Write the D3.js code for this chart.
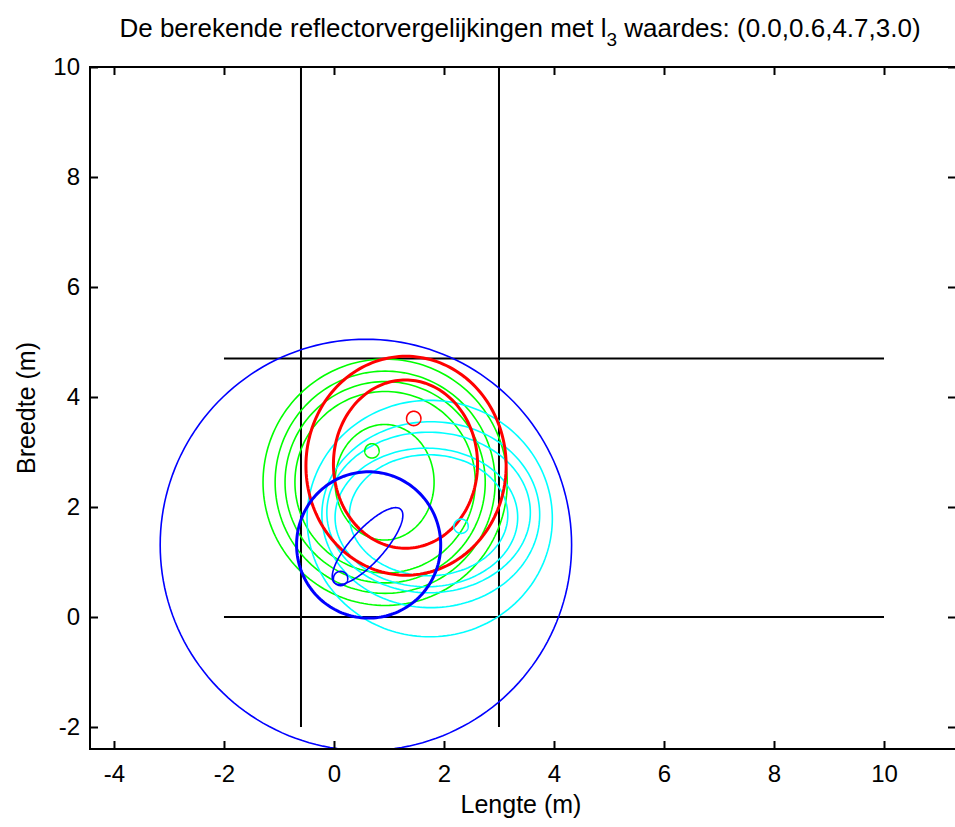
<!DOCTYPE html>
<html>
<head>
<meta charset="utf-8">
<script src="https://cdn.jsdelivr.net/npm/d3@7"></script>
<style>
  html, body { margin: 0; padding: 0; background: #fff; }
  svg { display: block; }
  text { font-family: "Liberation Sans", Arial, sans-serif; fill: #000; }
</style>
</head>
<body>
<svg id="chart" width="955" height="827"></svg>
<script>
// Axis ticks (metres)
const xTicks = [-4, -2, 0, 2, 4, 6, 8, 10];
const yTicks = [-2, 0, 2, 4, 6, 8, 10];

// Room boundary lines: l3 values (0.0, 0.6, 4.7, 3.0)
const wallsH = [ { y: 0.0, x0: -2, x1: 10 }, { y: 4.7, x0: -2, x1: 10 } ];
const wallsV = [ { x: -0.6, y0: -2, y1: 10 }, { x: 3.0, y0: -2, y1: 10 } ];

// Reflector ellipses per microphone: centre, semi-axes, rotation (deg)
const blueEllipses = [
  { cx: 0.58, cy: 1.31, rx: 3.74, ry: 3.74, rot: 0,  thick: false },
  { cx: 0.63, cy: 1.31, rx: 1.31, ry: 1.33, rot: 0,  thick: true },
  { cx: 0.61, cy: 1.29, rx: 0.90, ry: 0.30, rot: 48, thick: false }
];
const redEllipses = [
  { cx: 1.31, cy: 2.75, rx: 1.82, ry: 1.99, rot: 0, thick: true },
  { cx: 1.30, cy: 2.78, rx: 1.31, ry: 1.53, rot: 0, thick: true }
];
const greenEllipses = [
  { cx: 0.93, cy: 2.45, rx: 2.22, ry: 2.24, rot: 0, thick: false },
  { cx: 0.93, cy: 2.45, rx: 2.00, ry: 2.02, rot: 0, thick: false },
  { cx: 0.93, cy: 2.45, rx: 1.82, ry: 1.83, rot: 0, thick: false },
  { cx: 0.93, cy: 2.45, rx: 1.64, ry: 1.65, rot: 0, thick: false },
  { cx: 0.92, cy: 2.45, rx: 0.90, ry: 1.05, rot: 0, thick: false }
];
const cyanEllipses = [
  { cx: 1.74, cy: 1.79, rx: 2.23, ry: 2.15, rot: 0, thick: false },
  { cx: 1.76, cy: 1.86, rx: 1.98, ry: 1.69, rot: 0, thick: false },
  { cx: 1.72, cy: 1.90, rx: 1.85, ry: 1.46, rot: 0, thick: false },
  { cx: 1.68, cy: 1.81, rx: 1.66, ry: 1.26, rot: 0, thick: false },
  { cx: 1.72, cy: 1.85, rx: 1.44, ry: 1.10, rot: 0, thick: false }
];

// Microphone positions (small circles)
const micPoints = [
  { name: "blue",  x: 0.12, y: 0.70 },
  { name: "red",   x: 1.45, y: 3.61 },
  { name: "green", x: 0.69, y: 3.02 },
  { name: "cyan",  x: 2.31, y: 1.65 }
];
const micRadius = 0.13;

const colors = { blue: "#0000ff", red: "#ff0000", green: "#00ff00", cyan: "#00ffff" };

const svg = d3.select("#chart");
const plot = { left: 90, top: 67, right: 956, bottom: 749 };

const x = d3.scaleLinear().domain([-4.436, 11.309]).range([plot.left, plot.right]);
const y = d3.scaleLinear().domain([-2.4, 10]).range([plot.bottom, plot.top]);

svg.append("defs").append("clipPath").attr("id", "plotClip")
  .append("rect")
  .attr("x", plot.left).attr("y", plot.top)
  .attr("width", plot.right - plot.left).attr("height", plot.bottom - plot.top);

const g = svg.append("g").attr("clip-path", "url(#plotClip)");

// Ellipse outline as a closed path in data coordinates
function ellipsePoints(e) {
  const pts = [];
  const a = e.rot * Math.PI / 180;
  for (let i = 0; i <= 180; i++) {
    const t = i / 180 * 2 * Math.PI;
    const ex = e.rx * Math.cos(t), ey = e.ry * Math.sin(t);
    pts.push([e.cx + ex * Math.cos(a) - ey * Math.sin(a),
              e.cy + ex * Math.sin(a) + ey * Math.cos(a)]);
  }
  return pts;
}
const line = d3.line().x(d => x(d[0])).y(d => y(d[1]));

// Walls
g.selectAll("line.wallH").data(wallsH).enter().append("line")
  .attr("x1", d => x(d.x0)).attr("x2", d => x(d.x1))
  .attr("y1", d => y(d.y)).attr("y2", d => y(d.y))
  .attr("stroke", "#000").attr("stroke-width", 2);
g.selectAll("line.wallV").data(wallsV).enter().append("line")
  .attr("x1", d => x(d.x)).attr("x2", d => x(d.x))
  .attr("y1", d => y(d.y0)).attr("y2", d => y(d.y1))
  .attr("stroke", "#000").attr("stroke-width", 2);

function drawSet(list, color) {
  g.selectAll(null).data(list).enter().append("path")
    .attr("d", d => line(ellipsePoints(d)))
    .attr("fill", "none")
    .attr("stroke", color)
    .attr("stroke-width", d => d.thick ? 3 : 1.6);
}
drawSet(greenEllipses, colors.green);
drawSet(cyanEllipses, colors.cyan);
drawSet(redEllipses, colors.red);
drawSet(blueEllipses, colors.blue);

g.selectAll("path.mic").data(micPoints).enter().append("path")
  .attr("d", d => line(ellipsePoints({ cx: d.x, cy: d.y, rx: micRadius, ry: micRadius, rot: 0 })))
  .attr("fill", "none")
  .attr("stroke", d => colors[d.name])
  .attr("stroke-width", 1.6);

// Axes box with inward ticks on all sides
const tickLen = 8;
const fmt = d => String(d);
const axes = svg.append("g");
axes.append("rect")
  .attr("x", plot.left).attr("y", plot.top)
  .attr("width", plot.right - plot.left).attr("height", plot.bottom - plot.top)
  .attr("fill", "none").attr("stroke", "#000").attr("stroke-width", 2);

const bottomAxis = d3.axisBottom(x).tickValues(xTicks).tickSize(-tickLen).tickPadding(16).tickFormat(fmt);
const topAxis = d3.axisTop(x).tickValues(xTicks).tickSize(-tickLen).tickFormat("");
const leftAxis = d3.axisLeft(y).tickValues(yTicks).tickSize(-tickLen).tickPadding(10).tickFormat(fmt);
const rightAxis = d3.axisRight(y).tickValues(yTicks).tickSize(-tickLen).tickFormat("");

function styleAxis(sel) {
  sel.select(".domain").remove();
  sel.selectAll(".tick line").attr("stroke", "#000").attr("stroke-width", 2);
  sel.selectAll(".tick text").style("font-family", "'Liberation Sans', Arial, sans-serif")
    .style("font-size", "24px").attr("fill", "#000");
}
axes.append("g").attr("transform", `translate(0,${plot.bottom})`).call(bottomAxis).call(styleAxis);
axes.append("g").attr("transform", `translate(0,${plot.top})`).call(topAxis).call(styleAxis);
axes.append("g").attr("transform", `translate(${plot.left},0)`).call(leftAxis).call(styleAxis);
axes.append("g").attr("transform", `translate(${plot.right},0)`).call(rightAxis).call(styleAxis);

// Labels
svg.append("text")
  .attr("x", 521).attr("y", 813)
  .attr("text-anchor", "middle").style("font-size", "25px")
  .text("Lengte (m)");
svg.append("text")
  .attr("transform", `translate(35,408) rotate(-90)`)
  .attr("text-anchor", "middle").style("font-size", "25px")
  .text("Breedte (m)");

const title = svg.append("text")
  .attr("x", 520).attr("y", 37)
  .attr("text-anchor", "middle").style("font-size", "26px");
title.append("tspan").text("De berekende reflectorvergelijkingen met l");
title.append("tspan").attr("dy", 9).style("font-size", "19px").text("3");
title.append("tspan").attr("dy", -9).text(" waardes: (0.0,0.6,4.7,3.0)");
</script>
</body>
</html>
